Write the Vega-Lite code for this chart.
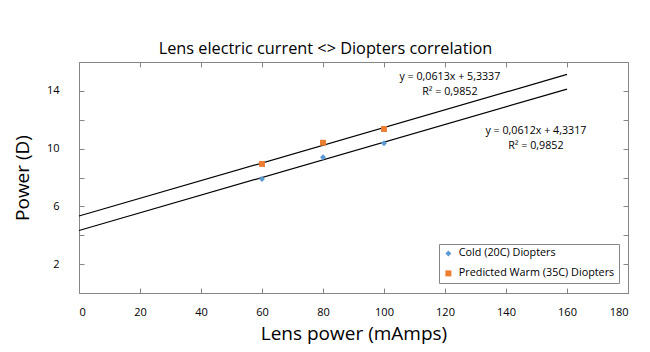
{
  "$schema": "https://vega.github.io/schema/vega-lite/v6.json",
  "width": 549,
  "height": 231,
  "autosize": {"type": "none"},
  "padding": {"left": 79, "top": 62, "right": 22, "bottom": 59},
  "background": "white",
  "title": {
    "text": "Lens electric current <> Diopters correlation",
    "font": "Open Sans",
    "fontSize": 16.3,
    "fontWeight": "normal",
    "color": "#000000",
    "anchor": "middle",
    "offset": 4,
    "dx": -28
  },
  "config": {
    "view": {"stroke": null},
    "axis": {
      "grid": false,
      "domainColor": "#868686",
      "tickColor": "#868686",
      "labelFont": "Open Sans",
      "labelFontSize": 11,
      "labelColor": "#000000",
      "titleFont": "Open Sans",
      "titleFontSize": 19,
      "titleFontWeight": "normal",
      "titleColor": "#000000"
    }
  },
  "datasets": {
    "trend": [
      {"series": "Cold (20C) Diopters", "x": 0, "y": 4.33},
      {"series": "Cold (20C) Diopters", "x": 160, "y": 14.12},
      {"series": "Predicted Warm (35C) Diopters", "x": 0, "y": 5.33},
      {"series": "Predicted Warm (35C) Diopters", "x": 160, "y": 15.14}
    ],
    "points": [
      {"series": "Cold (20C) Diopters", "x": 60, "y": 7.9},
      {"series": "Cold (20C) Diopters", "x": 80, "y": 9.4},
      {"series": "Cold (20C) Diopters", "x": 100, "y": 10.37},
      {"series": "Predicted Warm (35C) Diopters", "x": 60, "y": 8.94},
      {"series": "Predicted Warm (35C) Diopters", "x": 80, "y": 10.41},
      {"series": "Predicted Warm (35C) Diopters", "x": 100, "y": 11.36}
    ],
    "labels": [
      {"x": 121.6, "y": 14.98, "text": "y = 0,0613x + 5,3337"},
      {"x": 121.6, "y": 13.92, "text": "R² = 0,9852"},
      {"x": 149.8, "y": 11.22, "text": "y = 0,0612x + 4,3317"},
      {"x": 149.8, "y": 10.18, "text": "R² = 0,9852"}
    ]
  },
  "layer": [
    {
      "data": {"name": "trend"},
      "mark": {"type": "line", "color": "#000000", "strokeWidth": 1.2},
      "encoding": {
        "x": {
          "field": "x", "type": "quantitative",
          "scale": {"domain": [0, 180], "nice": false},
          "axis": {"orient": "bottom", "values": [0,20,40,60,80,100,120,140,160,180], "tickSize": -5, "labelPadding": 18, "title": "Lens power (mAmps)", "titlePadding": 7}
        },
        "y": {
          "field": "y", "type": "quantitative",
          "scale": {"domain": [0, 16], "nice": false},
          "axis": {"orient": "left", "values": [0,2,4,6,8,10,12,14,16], "labelExpr": "datum.value % 4 == 2 ? datum.label : ''", "tickSize": -5, "labelPadding": 25, "title": "Power (D)", "titlePadding": 14}
        },
        "detail": {"field": "series"}
      }
    },
    {
      "data": {"name": "points"},
      "mark": {"type": "point", "filled": true, "opacity": 1, "size": 35},
      "encoding": {
        "x": {"field": "x", "type": "quantitative", "axis": {"orient": "top", "values": [0,20,40,60,80,100,120,140,160,180], "labels": false, "tickSize": -5, "title": null}},
        "y": {"field": "y", "type": "quantitative", "axis": {"orient": "right", "values": [0,2,4,6,8,10,12,14,16], "labels": false, "tickSize": -5, "title": null}},
        "color": {
          "field": "series", "type": "nominal",
          "scale": {"domain": ["Cold (20C) Diopters", "Predicted Warm (35C) Diopters"], "range": ["#5B9BD5", "#ED7D31"]},
          "legend": {
            "title": null,
            "orient": "none",
            "legendX": 360,
            "legendY": 182,
            "strokeColor": "#868686",
            "fillColor": "white",
            "padding": 4,
            "labelFont": "Open Sans",
            "labelFontSize": 10.8,
            "labelColor": "#000000",
            "labelLimit": 400,
            "symbolSize": 36,
            "rowPadding": 8,
            "labelOffset": 5
          }
        },
        "shape": {
          "field": "series", "type": "nominal",
          "scale": {"domain": ["Cold (20C) Diopters", "Predicted Warm (35C) Diopters"], "range": ["diamond", "square"]},
          "legend": null
        }
      }
    },
    {
      "data": {"name": "labels"},
      "mark": {"type": "text", "font": "Open Sans", "fontSize": 10.7, "color": "#000000", "align": "center", "baseline": "middle"},
      "encoding": {
        "x": {"field": "x", "type": "quantitative", "axis": null},
        "y": {"field": "y", "type": "quantitative", "axis": null},
        "text": {"field": "text"}
      }
    }
  ],
  "resolve": {"axis": {"x": "independent", "y": "independent"}}
}
